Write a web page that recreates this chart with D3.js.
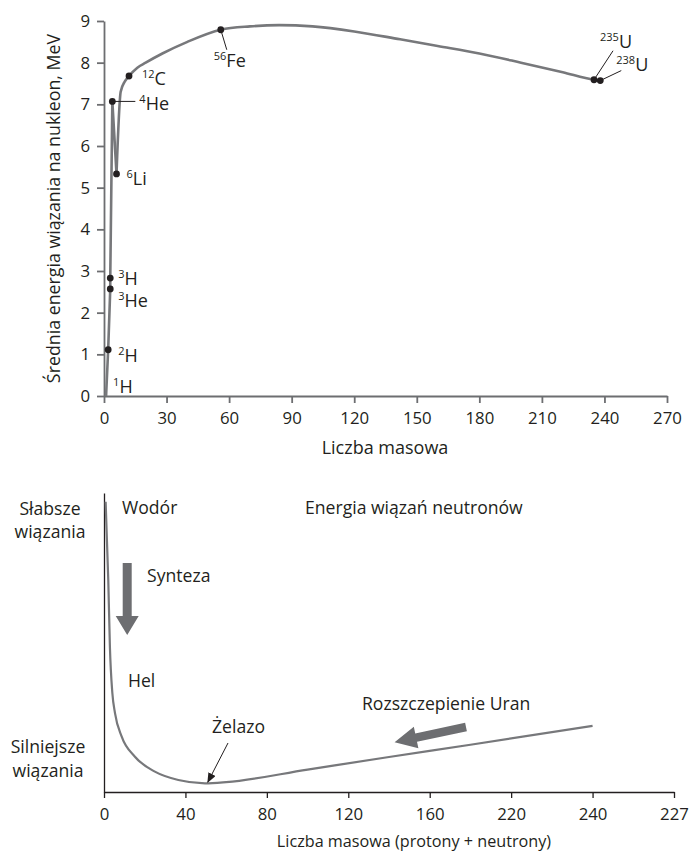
<!DOCTYPE html>
<html>
<head>
<meta charset="utf-8">
<script src="https://d3js.org/d3.v7.min.js"></script>
<style>
  body { margin: 0; background: white; }
  svg text { font-family: "Open Sans", sans-serif; fill: #231f20; }
  .curve { fill: none; stroke: #77787b; stroke-width: 2.6; stroke-linejoin: round; }
  .curve2 { fill: none; stroke: #77787b; stroke-width: 2.2; }
  .axisTop path, .axisTop line { stroke: #6d6e71; stroke-width: 1.8; }
  .axisBot path, .axisBot line { stroke: #231f20; stroke-width: 1.3; }
  .tick text { font-size: 16.8px; fill: #231f20; }
</style>
</head>
<body>
<svg id="chart" width="691" height="852"></svg>
<script>
// top chart: binding energy per nucleon
var curveMassA = [1, 2, 3, 3, 4, 6];
var curveEnergyA = [0, 1.11, 2.57, 2.83, 7.07, 5.33];
var curveMassB = [6, 8, 10, 12, 16, 20, 28, 40, 56, 70, 84, 100, 120, 142, 160, 180, 200, 220, 235, 238];
var curveEnergyB = [5.33, 7.3, 7.55, 7.68, 7.88, 8.0, 8.22, 8.5, 8.79, 8.87, 8.9, 8.87, 8.75, 8.56, 8.4, 8.22, 8.0, 7.77, 7.59, 7.57];

var isoNames = ["1", "2", "3", "3", "4", "6", "12", "56", "235", "238"];
var isoSymbols = ["H", "H", "H", "He", "He", "Li", "C", "Fe", "U", "U"];
var isoMass = [1, 2, 3, 3, 4, 6, 12, 56, 235, 238];
var isoEnergy = [0, 1.11, 2.83, 2.57, 7.07, 5.33, 7.68, 8.79, 7.59, 7.57];
var isoDot = [false, true, true, true, true, true, true, true, true, true];

var xTicksTop = [0, 30, 60, 90, 120, 150, 180, 210, 240, 270];
var yTicksTop = [0, 1, 2, 3, 4, 5, 6, 7, 8, 9];

// bottom chart: schematic curve
var schemMass = [0.8, 2.1, 2.9, 4.1, 5.4, 8.7, 15.2, 25, 36.5, 49.6, 60, 100, 140, 180, 240];
var schemEnergy = [9.71, 7.09, 4.86, 3.31, 2.64, 1.85, 1.18, 0.68, 0.40, 0.29, 0.33, 0.75, 1.17, 1.58, 2.21];
var xTicksBot = [0, 40, 80, 120, 160, 200, 240, 280];
var xTickLabelsBot = ["0", "40", "80", "120", "160", "220", "240", "227"];

var svg = d3.select("#chart");

// ---------- top chart ----------
var x = d3.scaleLinear().domain([0, 270]).range([104, 667]);
var y = d3.scaleLinear().domain([0, 9]).range([396, 21]);

svg.append("g")
  .attr("class", "axisTop")
  .attr("transform", "translate(0,396)")
  .call(d3.axisBottom(x).tickValues(xTicksTop).tickSize(7).tickSizeOuter(0).tickPadding(9));
svg.append("g")
  .attr("class", "axisTop")
  .attr("transform", "translate(104,0)")
  .call(d3.axisLeft(y).tickValues(yTicksTop).tickSize(7).tickSizeOuter(0).tickPadding(7));

var lineTop = d3.line().x(function(d) { return x(d[0]); }).y(function(d) { return y(d[1]); });
svg.append("path")
  .datum(curveMassA.map(function(m, i) { return [m, curveEnergyA[i]]; }))
  .attr("class", "curve")
  .attr("d", lineTop);
svg.append("path")
  .datum(curveMassB.map(function(m, i) { return [m, curveEnergyB[i]]; }))
  .attr("class", "curve")
  .attr("d", lineTop.curve(d3.curveMonotoneX));

// leader lines (offsets from the dot)
var leaders = { 4: [[0, 0], [23, 0]], 7: [[0, 0], [6, 20]], 8: [[0, 0], [19, -29]], 9: [[0, 0], [21, -10]] };
Object.keys(leaders).forEach(function(k) {
  var i = +k, p = leaders[k];
  svg.append("line")
    .attr("x1", x(isoMass[i]) + p[0][0]).attr("y1", y(isoEnergy[i]) + p[0][1])
    .attr("x2", x(isoMass[i]) + p[1][0]).attr("y2", y(isoEnergy[i]) + p[1][1])
    .style("stroke", "#231f20").style("stroke-width", 1);
});

isoMass.forEach(function(m, i) {
  if (isoDot[i]) {
    svg.append("circle")
      .attr("cx", x(m)).attr("cy", y(isoEnergy[i])).attr("r", 3.4)
      .style("fill", "#231f20");
  }
});

// label offsets from the dot: [dx, dy]
var labelOffsets = [[7, -3], [10, 12], [8, 7], [8, 18], [27, 9], [10, 11], [13, 9], [-7, 37], [6, -32], [16, -10]];
isoMass.forEach(function(m, i) {
  var t = svg.append("text")
    .attr("x", x(m) + labelOffsets[i][0])
    .attr("y", y(isoEnergy[i]) + labelOffsets[i][1])
    .style("font-size", "18px");
  t.append("tspan").text(isoNames[i]).style("font-size", "11px").attr("dy", -7);
  t.append("tspan").text(isoSymbols[i]).attr("dy", 7);
});

svg.append("text")
  .attr("transform", "translate(60," + (y(0) + y(9)) / 2 + ") rotate(-90)")
  .attr("text-anchor", "middle")
  .style("font-size", "17.8px")
  .text("Średnia energia wiązania na nukleon, MeV");
svg.append("text")
  .attr("x", 385).attr("y", 454)
  .attr("text-anchor", "middle")
  .style("font-size", "18px")
  .text("Liczba masowa");

// ---------- bottom chart ----------
var x2 = d3.scaleLinear().domain([0, 280]).range([104, 674]);
var y2 = d3.scaleLinear().domain([0, 10]).range([792, 493]);

svg.append("g")
  .attr("class", "axisBot")
  .attr("transform", "translate(0,792)")
  .call(d3.axisBottom(x2).tickValues(xTicksBot).tickSize(6).tickSizeOuter(0).tickPadding(10)
    .tickFormat(function(d, i) { return xTickLabelsBot[i]; }));
svg.append("g")
  .attr("class", "axisBot")
  .attr("transform", "translate(104,0)")
  .call(d3.axisLeft(y2).tickValues([]).tickSizeOuter(0));

var lineBot = d3.line()
  .x(function(d) { return x2(d[0]); })
  .y(function(d) { return y2(d[1]); })
  .curve(d3.curveMonotoneX);
svg.append("path")
  .datum(schemMass.map(function(m, i) { return [m, schemEnergy[i]]; }))
  .attr("class", "curve2")
  .attr("d", lineBot);

function label(txt, px, py, anchor) {
  svg.append("text").attr("x", px).attr("y", py)
    .attr("text-anchor", anchor || "start")
    .style("font-size", "17.6px").text(txt);
}
label("Słabsze", 50, 515, "middle");
label("wiązania", 50, 538, "middle");
label("Silniejsze", 48, 753, "middle");
label("wiązania", 48, 777, "middle");
label("Wodór", 122, 514);
label("Energia wiązań neutronów", 305, 514);
label("Synteza", 147, 582);
label("Hel", 128, 687);
label("Żelazo", 212, 733);
label("Rozszczepienie Uran", 362, 710);

// fat arrows
function fatArrow(x0, y0, angle, len, shaftW, headLen, headW) {
  var s = len - headLen;
  var pts = [[0, -shaftW / 2], [s, -shaftW / 2], [s, -headW / 2], [len, 0], [s, headW / 2], [s, shaftW / 2], [0, shaftW / 2]];
  svg.append("polygon")
    .attr("points", pts.map(function(p) { return p.join(","); }).join(" "))
    .attr("transform", "translate(" + x0 + "," + y0 + ") rotate(" + angle + ")")
    .style("fill", "#6d6e71");
}
fatArrow(127.2, 563, 90, 72, 9, 19, 23);
fatArrow(466, 727, 168, 73, 8.5, 22, 22);

// Żelazo pointer
svg.append("defs").append("marker")
  .attr("id", "tip").attr("markerWidth", 10).attr("markerHeight", 8)
  .attr("refX", 9).attr("refY", 4).attr("orient", "auto").attr("markerUnits", "userSpaceOnUse")
  .append("polygon").attr("points", "0 0, 10 4, 0 8").style("fill", "#231f20");
svg.append("line")
  .attr("x1", 228).attr("y1", 743)
  .attr("x2", x2(51)).attr("y2", y2(0.33))
  .style("stroke", "#231f20").style("stroke-width", 1)
  .attr("marker-end", "url(#tip)");

svg.append("text")
  .attr("x", 414).attr("y", 847)
  .attr("text-anchor", "middle")
  .style("font-size", "16.2px")
  .text("Liczba masowa (protony + neutrony)");
</script>
</body>
</html>
